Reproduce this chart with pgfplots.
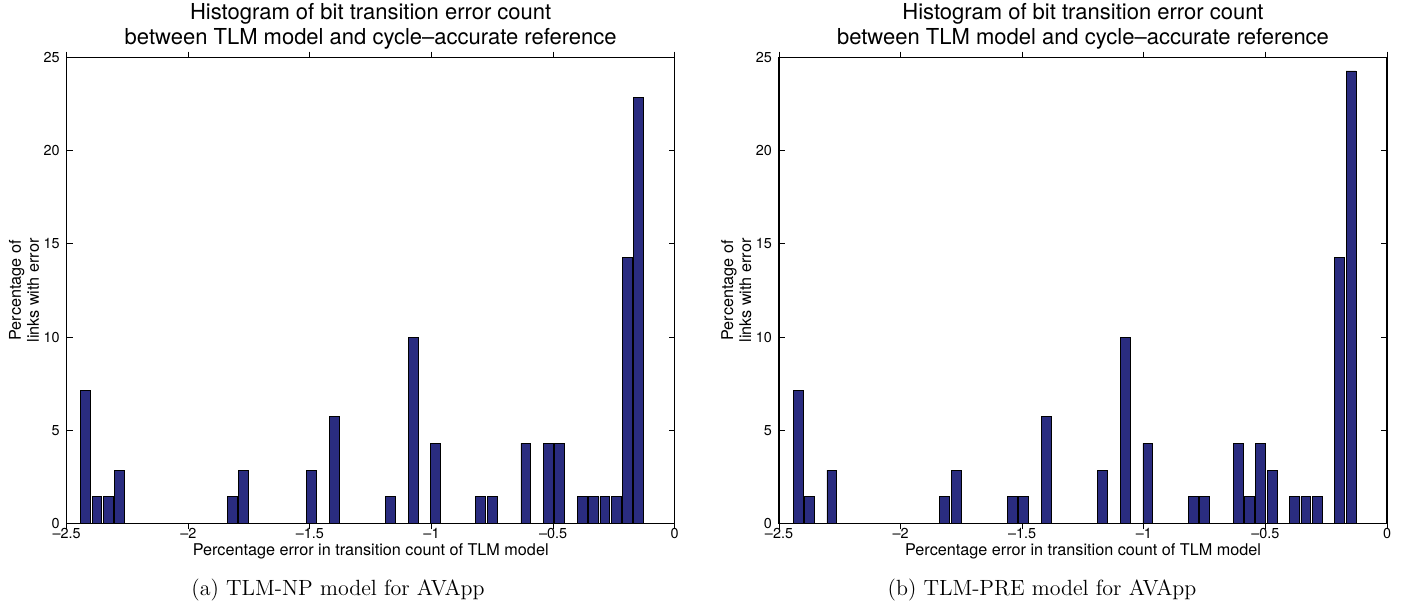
\documentclass[border=0pt]{standalone}
\usepackage{pgfplots}
\pgfplotsset{compat=1.18}
\usepackage{fontspec}
\newfontfamily\hel[Ligatures=TeX]{TeX Gyre Heros}
\definecolor{barblue}{RGB}{42,44,128}
\pgfplotsset{histo/.style={
  scale only axis, width=304pt, height=232.8pt,
  xmin=-2.5, xmax=0, ymin=0, ymax=25,
  xtick={-2.5,-2,-1.5,-1,-0.5,0},
  xticklabels={--2.5,--2,--1.5,--1,--0.5,0},
  ytick={0,5,10,15,20,25},
  yticklabels={0,5,10,15,20,25},
  tick align=inside, major tick length=3pt,
  tick label style={font=\hel\fontsize{7.2}{8}\selectfont},
  xticklabel style={yshift=4pt},
  axis line style={line width=0.6pt},
  every tick/.style={black, line width=0.5pt},
  every axis title/.style={at={(axis description cs:0.5,1)}, anchor=south, yshift=4pt, inner sep=0pt,
    align=center, font=\hel\fontsize{11}{12.5}\selectfont},
  every axis x label/.style={at={(axis description cs:0.5,0)}, anchor=center, yshift=-13.8pt,
    font=\hel\fontsize{8.1}{9}\selectfont},
  every axis y label/.style={at={(axis description cs:-0.0702,0.5)}, anchor=center, rotate=90,
    align=center, font=\hel\fontsize{8.1}{9}\selectfont},
  title={Histogram of bit transition error count\\between TLM model and cycle--accurate reference},
  xlabel={Percentage error in transition count of TLM model},
  ylabel={Percentage of\\links with error},
  ybar, bar width=0.0405,
}}
\begin{document}
\begin{tikzpicture}
\useasboundingbox (0,0) rectangle (701.5pt,304pt);
\begin{axis}[histo, at={(33.35pt,42.35pt)}, anchor=south west]
\addplot[fill=barblue, draw=black, line width=0.4pt] coordinates {
(-2.4220,7.143) (-2.3756,1.429) (-2.3292,1.429) (-2.2828,2.857)
(-1.8187,1.429) (-1.7723,2.857) (-1.4938,2.857) (-1.4010,5.714)
(-1.1689,1.429) (-1.0761,10.000) (-0.9833,4.286) (-0.7976,1.429)
(-0.7512,1.429) (-0.6120,4.286) (-0.5192,4.286) (-0.4728,4.286)
(-0.3800,1.429) (-0.3336,1.429) (-0.2872,1.429) (-0.2408,1.429)
(-0.1944,14.286) (-0.1480,22.857)
};
\end{axis}
\begin{axis}[histo, at={(389.5pt,42.35pt)}, anchor=south west]
\addplot[fill=barblue, draw=black, line width=0.4pt] coordinates {
(-2.4220,7.143) (-2.3756,1.429) (-2.2828,2.857)
(-1.8187,1.429) (-1.7723,2.857) (-1.5402,1.429) (-1.4938,1.429) (-1.4010,5.714)
(-1.1689,2.857) (-1.0761,10.000) (-0.9833,4.286) (-0.7976,1.429)
(-0.7512,1.429) (-0.6120,4.286) (-0.5656,1.429) (-0.5192,4.286) (-0.4728,2.857)
(-0.3800,1.429) (-0.3336,1.429) (-0.2872,1.429)
(-0.1944,14.286) (-0.1480,24.286)
};
\end{axis}
\node[font=\fontsize{11}{12}\selectfont, anchor=base] at (169pt,6pt) {(a) TLM-NP model for AVApp};
\node[font=\fontsize{11}{12}\selectfont, anchor=base] at (521pt,6pt) {(b) TLM-PRE model for AVApp};
\end{tikzpicture}
\end{document}
